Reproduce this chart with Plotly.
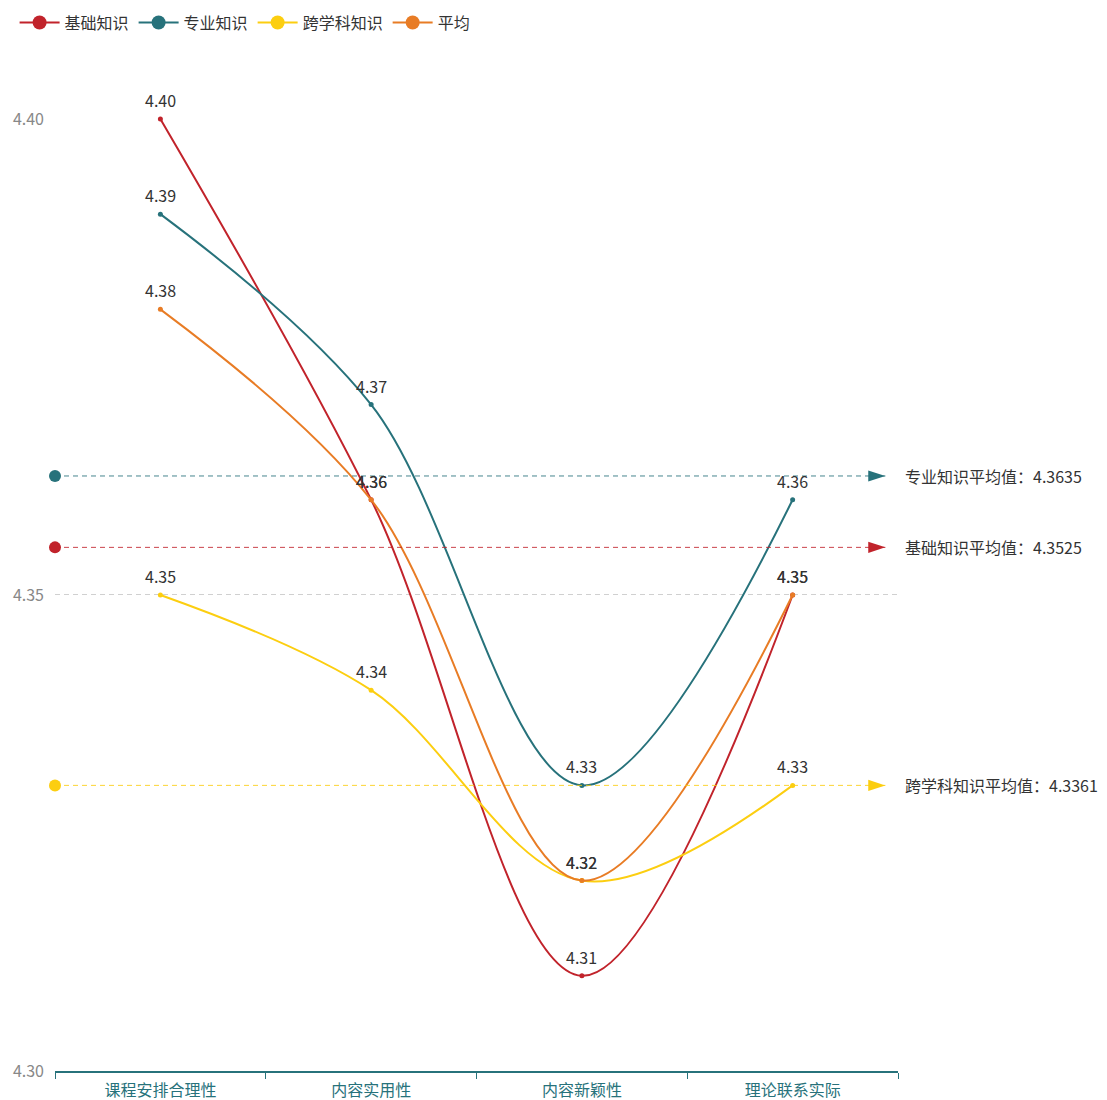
import plotly.graph_objects as go

categories = ["课程安排合理性", "内容实用性", "内容新颖性", "理论联系实际"]
series_names = ["基础知识", "专业知识", "跨学科知识", "平均"]
basic = [4.40, 4.36, 4.31, 4.35]
major = [4.39, 4.37, 4.33, 4.36]
cross = [4.35, 4.34, 4.32, 4.33]
average = [4.38, 4.36, 4.32, 4.35]

# average lines: position, label text as shown
avg_series = ["基础知识", "专业知识", "跨学科知识"]
avg_values = [4.355, 4.3625, 4.33]
avg_labels = ["基础知识平均值：4.3525", "专业知识平均值：4.3635", "跨学科知识平均值：4.3361"]

y_ticks = [4.30, 4.35, 4.40]

colors = {"基础知识": "#C1232B", "专业知识": "#27727B", "跨学科知识": "#FCCE10", "平均": "#E87C25"}
FONT = "Noto Sans CJK SC"

fig = go.Figure()

x_idx = list(range(len(categories)))
for name, vals in zip(series_names, [basic, major, cross, average]):
    c = colors[name]
    fig.add_trace(go.Scatter(
        x=x_idx, y=vals,
        mode="lines+markers",
        line=dict(color=c, width=2, shape="spline", smoothing=1.0),
        marker=dict(color=c, size=5),
        cliponaxis=False,
        showlegend=False,
    ))
    # value labels a little above each point
    for xi, v in zip(x_idx, vals):
        fig.add_annotation(
            x=xi, y=v, text=f"{v:.2f}", showarrow=False,
            yshift=19, font=dict(family=FONT, size=16, color="#333333"),
        )
    # legend entry with a bigger symbol
    fig.add_trace(go.Scatter(
        x=[None], y=[None], name=name,
        mode="lines+markers",
        line=dict(color=c, width=2),
        marker=dict(color=c, size=14),
    ))

for name, val, lab in zip(avg_series, avg_values, avg_labels):
    c = colors[name]
    fig.add_trace(go.Scatter(
        x=[-0.5, 3.44], y=[val, val],
        mode="lines",
        line=dict(color=c, width=1, dash="5px,4px"),
        opacity=0.85,
        showlegend=False, hoverinfo="skip",
        cliponaxis=False,
    ))
    fig.add_trace(go.Scatter(
        x=[-0.5], y=[val], mode="markers",
        marker=dict(color=c, size=12, symbol="circle"),
        showlegend=False, cliponaxis=False,
    ))
    fig.add_trace(go.Scatter(
        x=[3.44], y=[val], mode="markers",
        marker=dict(color=c, size=18, symbol="arrow", angle=90),
        showlegend=False, cliponaxis=False,
    ))
    fig.add_annotation(
        x=3.5, y=val, xref="x", yref="y",
        text=lab, showarrow=False, xanchor="left", xshift=5,
        font=dict(family=FONT, size=16, color="#333333"),
    )

# page body adds an 8px offset, size and margins compensate for it
fig.update_layout(
    width=1099, height=1092,
    margin=dict(l=47, r=209, t=110, b=29, autoexpand=False),
    plot_bgcolor="white", paper_bgcolor="white",
    font=dict(family=FONT, size=16, color="#333333"),
    legend=dict(
        orientation="h", x=0.006, y=1.118, xref="container", yref="paper",
        xanchor="left", yanchor="top",
        font=dict(family=FONT, size=16, color="#333333"),
        itemwidth=40,
    ),
    xaxis=dict(
        range=[-0.5, 3.5], automargin=False,
        tickmode="array", tickvals=x_idx, ticktext=categories,
        ticks="", showgrid=False, zeroline=False,
        showline=True, linecolor="#27727B", linewidth=2,
        tickfont=dict(family=FONT, size=16, color="#27727B"),
        ticklabelstandoff=4,
        minor=dict(tickmode="linear", tick0=-0.5, dtick=1, ticks="outside",
                   ticklen=6, tickcolor="#27727B", tickwidth=1, showgrid=False),
    ),
    yaxis=dict(
        range=[4.30, 4.4001], automargin=False,
        tickmode="array", tickvals=y_ticks, tickformat=".2f",
        showgrid=True, gridcolor="#d0d0d0", griddash="5px,4px", gridwidth=1,
        zeroline=False, showline=False,
        tickfont=dict(family=FONT, size=16, color="#888888"),
        ticklabelstandoff=10,
    ),
)

fig.write_html("out.html")
